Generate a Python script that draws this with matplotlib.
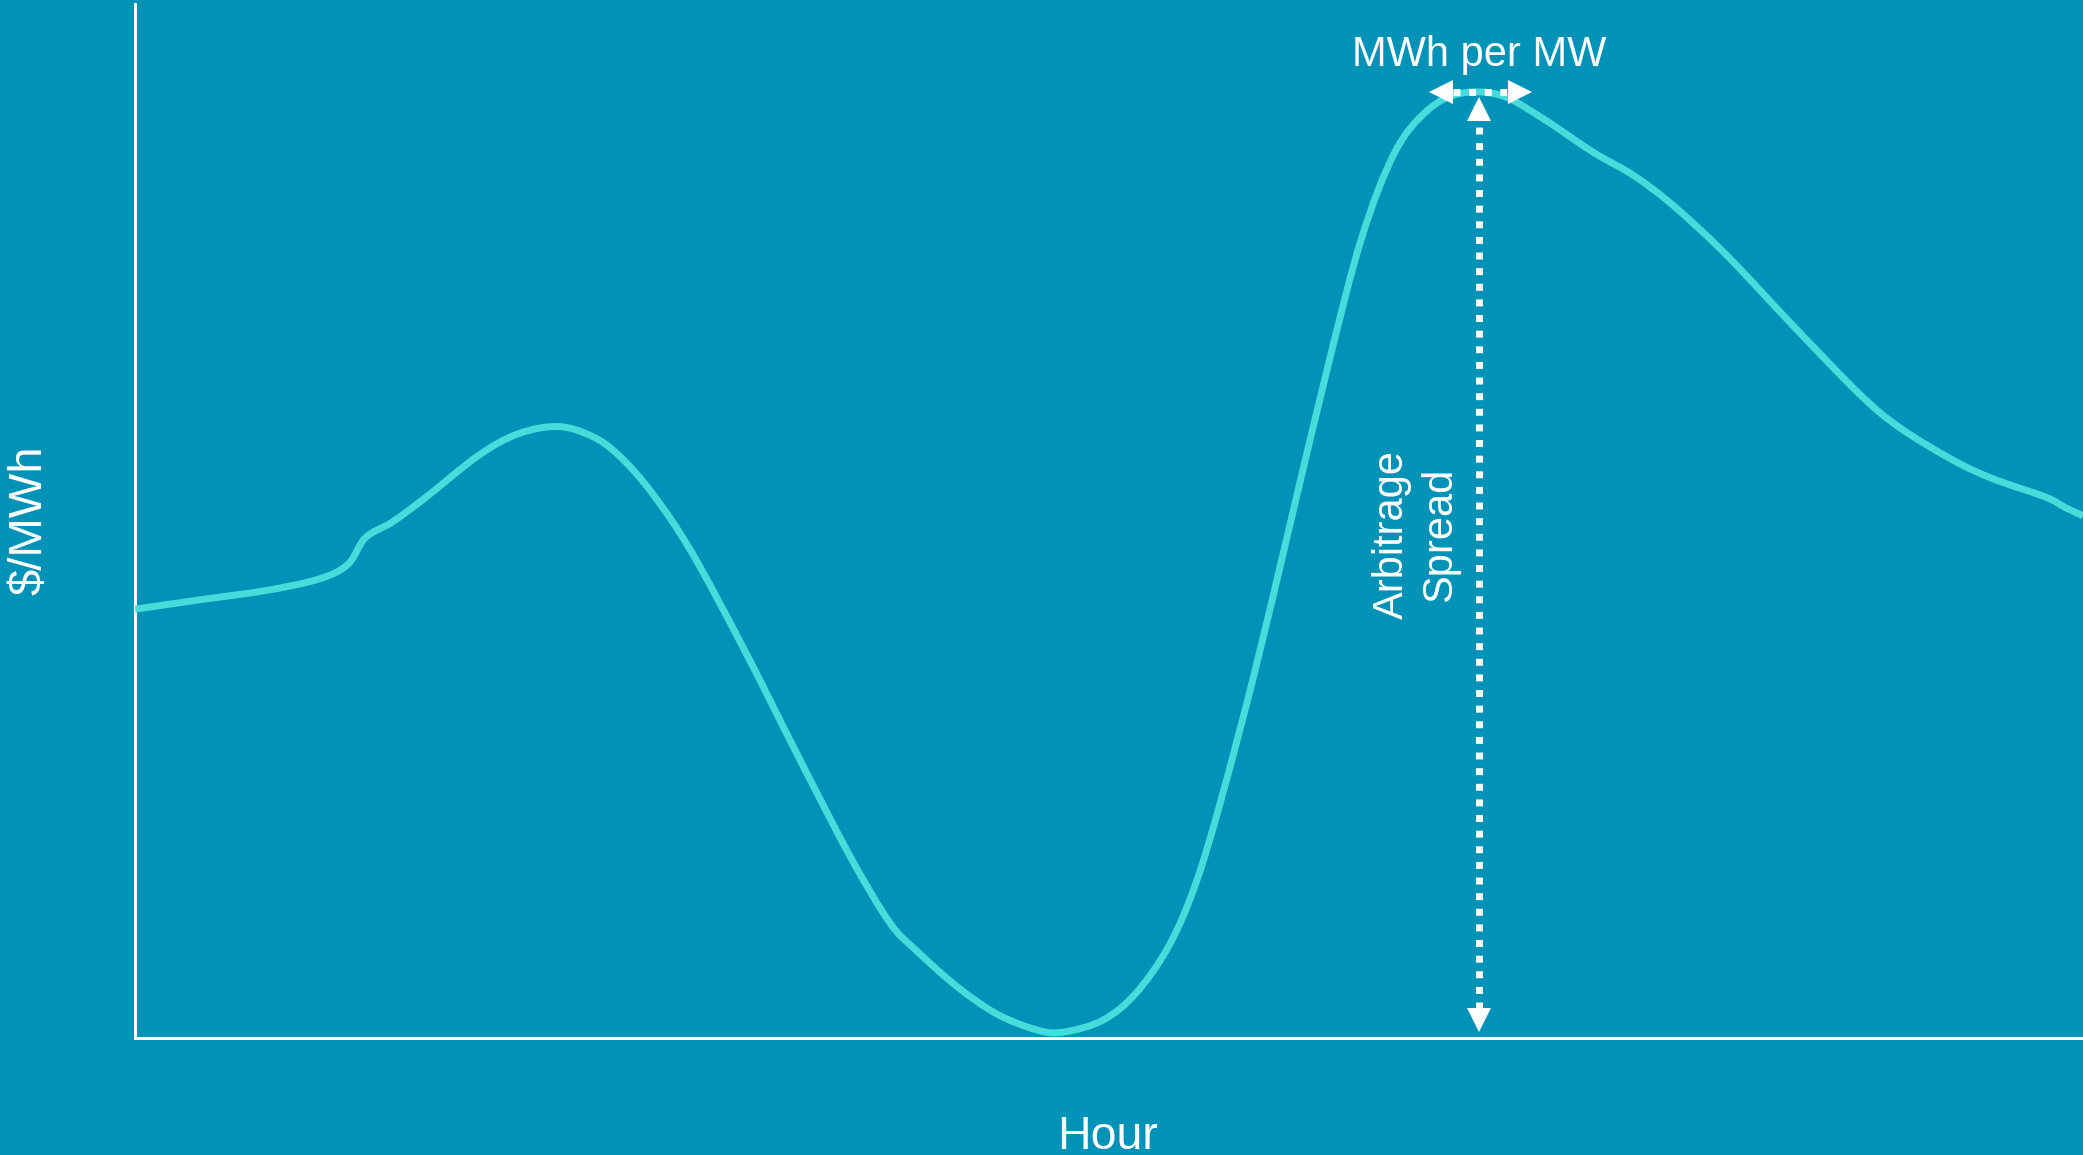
import matplotlib
matplotlib.use("Agg")
import matplotlib.pyplot as plt
import numpy as np
from matplotlib.path import Path
from matplotlib.patches import PathPatch

plt.rcParams['font.family'] = ['Liberation Sans', 'DejaVu Sans']

BG = '#0092b7'
LINE = '#46dcdc'

# hourly price shape (hour of day, relative $/MWh)
hours = [0.0, 0.79, 1.61, 2.26, 2.62, 2.84, 3.17, 3.57, 4.23, 4.72, 5.21, 5.62,
         5.95, 6.36, 6.85, 7.50, 8.16, 8.81, 9.30, 9.63, 10.12, 10.61, 11.10,
         11.43, 11.92, 12.33, 12.74, 13.07, 13.39, 13.80, 14.21, 14.70, 15.11,
         15.52, 15.93, 16.34, 16.83, 17.32, 17.97, 18.46, 18.95, 19.61, 20.43,
         21.25, 21.74, 22.39, 22.88, 23.54, 23.78, 24.0]
price = [41.3, 42.2, 43.1, 44.2, 45.6, 48.2, 49.7, 52.0, 56.1, 58.2, 58.9, 58.0,
         56.2, 52.6, 46.9, 37.5, 27.3, 17.5, 11.1, 8.4, 5.0, 2.35, 0.8,
         0.56, 1.7, 4.3, 8.9, 14.9, 23.2, 35.4, 48.8, 64.8, 77.0,
         85.3, 89.4, 91.0, 90.8, 88.7, 85.3, 83.1, 80.2, 75.4, 68.6,
         62.0, 58.8, 55.7, 53.9, 52.1, 51.1, 50.3]

# arbitrage spread arrow (vertical) and duration arrow (horizontal)
spread_x = 16.56
spread_lo, spread_hi = 0.58, 90.6
dur_y = 91.1
dur_lo, dur_hi = 15.95, 17.21


def smooth_path(xs, ys):
    # Catmull-Rom knots turned into cubic bezier segments
    p = np.column_stack([xs, ys])
    p = np.vstack([p[0], p, p[-1]])
    verts = [p[1]]
    codes = [Path.MOVETO]
    for i in range(1, len(p) - 2):
        c1 = p[i] + (p[i + 1] - p[i - 1]) / 6
        c2 = p[i + 1] - (p[i + 2] - p[i]) / 6
        verts += [c1, c2, p[i + 1]]
        codes += [Path.CURVE4] * 3
    return Path(verts, codes)


W, H = 2083, 1155
fig = plt.figure(figsize=(W / 100, H / 100), dpi=100, facecolor=BG)
ax = fig.add_axes([135 / W, (H - 1038) / H, (W - 135) / W, 1034 / H])
ax.set_facecolor(BG)
ax.set_xlim(0, 24)
ax.set_ylim(0, 99.6)
ax.set_xticks([])
ax.set_yticks([])
for s in ['top', 'right']:
    ax.spines[s].set_visible(False)
for s in ['left', 'bottom']:
    ax.spines[s].set_color('white')
    ax.spines[s].set_linewidth(2.2)

ax.add_patch(PathPatch(smooth_path(hours, price), fill=False, edgecolor=LINE,
                       lw=5.0, capstyle='butt', joinstyle='round', zorder=3))

# dotted shafts
dots = dict(color='white', lw=5.0, linestyle=(0, (1, 1.25)),
            dash_capstyle='butt', zorder=4)
hl_y = 23 / 1038 * 100   # head length in data units
hl_x = 23 / 1948 * 24
ax.plot([spread_x, spread_x], [spread_lo + hl_y, spread_hi - hl_y], **dots)
ax.plot([dur_lo + hl_x, dur_hi - hl_x], [dur_y, dur_y], **dots)

# arrow heads
head = dict(color='white', markersize=16.6, markeredgewidth=0, zorder=5)
ax.plot(spread_x, spread_hi - hl_y / 2, marker='^', **head)
ax.plot(spread_x, spread_lo + hl_y / 2, marker='v', **head)
ax.plot(dur_lo + hl_x / 2, dur_y, marker='<', **head)
ax.plot(dur_hi - hl_x / 2, dur_y, marker='>', **head)

ax.text(spread_x, 93.6, 'MWh per MW', color='white', fontsize=30,
        ha='center', va='baseline', zorder=6)
ax.text(15.78, 48.5, 'Arbitrage\nSpread', color='white', fontsize=30,
        rotation=90, ha='center', va='center', multialignment='center',
        linespacing=1.25, zorder=6)

fig.text(29 / W, 1 - 520 / H, '$/MWh', color='white', fontsize=34,
         rotation=90, ha='center', va='center')
fig.text(1108 / W, 6 / H, 'Hour', color='white', fontsize=33.5,
         ha='center', va='baseline')

fig.savefig('out.png', dpi=100, facecolor=BG)
